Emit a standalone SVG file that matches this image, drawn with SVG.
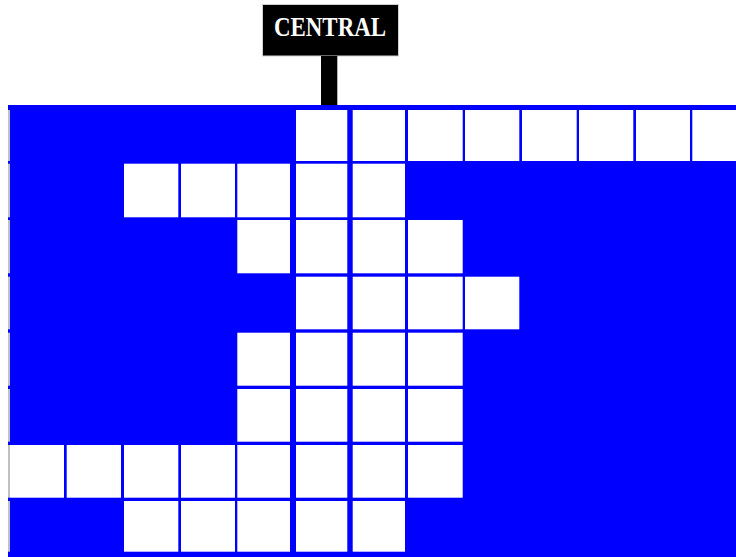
<svg xmlns="http://www.w3.org/2000/svg" width="736" height="557" viewBox="0 0 736 557">
<style>
.c{fill:#ffffff}
.g{fill:#c0c0c0}
.lbl{font-family:"Liberation Serif","Times New Roman",serif;font-weight:bold;font-size:28px;fill:#ffffff}
</style>
<rect x="0" y="0" width="736" height="557" fill="#ffffff"/>
<g id="sign">
<rect x="262.5" y="4.5" width="136" height="51.5" fill="#000000" stroke="#d0d0d0" stroke-width="1"/>
<rect x="321" y="56" width="16.3" height="49" fill="#000000"/>
<text class="lbl" x="330" y="36" text-anchor="middle" textLength="112" lengthAdjust="spacingAndGlyphs">CENTRAL</text>
</g>
<g id="grid">
<rect x="8" y="105" width="728" height="452" fill="#0000ff"/>
<rect class="g" x="8" y="110" width="2" height="51"/>
<rect class="g" x="8" y="163.7" width="2" height="53.6"/>
<rect class="g" x="8" y="220" width="2" height="53.3"/>
<rect class="g" x="8" y="276.7" width="2" height="52.6"/>
<rect class="g" x="8" y="332.7" width="2" height="53"/>
<rect class="g" x="8" y="389" width="2" height="52.7"/>
<rect class="g" x="8" y="445" width="2" height="52.7"/>
<rect class="g" x="8" y="501" width="2" height="50.7"/>
</g>
<g id="row0">
<rect class="c" x="296" y="110" width="51.3" height="51"/>
<rect class="c" x="352.7" y="110" width="52.3" height="51"/>
<rect class="c" x="408" y="110" width="54.7" height="51"/>
<rect class="c" x="465" y="110" width="54.3" height="51"/>
<rect class="c" x="522" y="110" width="54.7" height="51"/>
<rect class="c" x="579" y="110" width="54.3" height="51"/>
<rect class="c" x="636" y="110" width="54" height="51"/>
<rect class="c" x="692.3" y="110" width="43.7" height="51"/>
</g>
<g id="row1">
<rect class="c" x="124" y="163.7" width="54.3" height="53.6"/>
<rect class="c" x="181" y="163.7" width="54" height="53.6"/>
<rect class="c" x="237.3" y="163.7" width="52.7" height="53.6"/>
<rect class="c" x="296" y="163.7" width="51.3" height="53.6"/>
<rect class="c" x="352.7" y="163.7" width="52.3" height="53.6"/>
</g>
<g id="row2">
<rect class="c" x="237.3" y="220" width="52.7" height="53.3"/>
<rect class="c" x="296" y="220" width="51.3" height="53.3"/>
<rect class="c" x="352.7" y="220" width="52.3" height="53.3"/>
<rect class="c" x="408" y="220" width="54.7" height="53.3"/>
</g>
<g id="row3">
<rect class="c" x="296" y="276.7" width="51.3" height="52.6"/>
<rect class="c" x="352.7" y="276.7" width="52.3" height="52.6"/>
<rect class="c" x="408" y="276.7" width="54.7" height="52.6"/>
<rect class="c" x="465" y="276.7" width="54.3" height="52.6"/>
</g>
<g id="row4">
<rect class="c" x="237.3" y="332.7" width="52.7" height="53"/>
<rect class="c" x="296" y="332.7" width="51.3" height="53"/>
<rect class="c" x="352.7" y="332.7" width="52.3" height="53"/>
<rect class="c" x="408" y="332.7" width="54.7" height="53"/>
</g>
<g id="row5">
<rect class="c" x="237.3" y="389" width="52.7" height="52.7"/>
<rect class="c" x="296" y="389" width="51.3" height="52.7"/>
<rect class="c" x="352.7" y="389" width="52.3" height="52.7"/>
<rect class="c" x="408" y="389" width="54.7" height="52.7"/>
</g>
<g id="row6">
<rect class="c" x="10" y="445" width="54" height="52.7"/>
<rect class="c" x="66.7" y="445" width="54.3" height="52.7"/>
<rect class="c" x="124" y="445" width="54.3" height="52.7"/>
<rect class="c" x="181" y="445" width="54" height="52.7"/>
<rect class="c" x="237.3" y="445" width="52.7" height="52.7"/>
<rect class="c" x="296" y="445" width="51.3" height="52.7"/>
<rect class="c" x="352.7" y="445" width="52.3" height="52.7"/>
<rect class="c" x="408" y="445" width="54.7" height="52.7"/>
</g>
<g id="row7">
<rect class="c" x="124" y="501" width="54.3" height="50.7"/>
<rect class="c" x="181" y="501" width="54" height="50.7"/>
<rect class="c" x="237.3" y="501" width="52.7" height="50.7"/>
<rect class="c" x="296" y="501" width="51.3" height="50.7"/>
<rect class="c" x="352.7" y="501" width="52.3" height="50.7"/>
</g>
</svg>
